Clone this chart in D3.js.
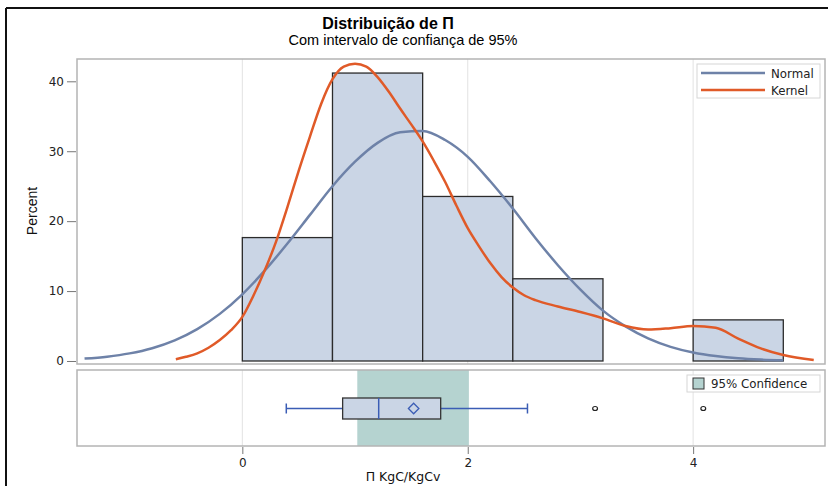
<!DOCTYPE html>
<html>
<head>
<meta charset="utf-8">
<script src="https://cdn.jsdelivr.net/npm/d3@7"></script>
<style>
  body { margin: 0; background: #fff; }
  svg { display: block; }
</style>
</head>
<body>
<div id="chart"></div>
<script>
// histogram bins (percent), bin width 0.8
const binStarts = [0, 0.8, 1.6, 2.4, 3.2, 4.0]
const binPercents = [17.65, 41.18, 23.53, 11.76, 0, 5.88]
const binWidth = 0.8

// fitted normal curve
const normalX = [-1.4, -1.2, -1.0, -0.8, -0.6, -0.4, -0.2, 0, 0.2, 0.4, 0.6, 0.8, 1.0, 1.2, 1.4, 1.6, 1.8, 2.0, 2.2, 2.4, 2.6, 2.8, 3.0, 3.2, 3.4, 3.6, 3.8, 4.0, 4.2, 4.4, 4.6, 4.8]
const normalY = [0.34, 0.62, 1.09, 1.83, 2.95, 4.56, 6.74, 9.54, 12.95, 16.8, 20.9, 25.0, 28.5, 31.2, 32.7, 32.9, 31.6, 29.2, 25.7, 21.8, 17.6, 13.7, 10.2, 7.2, 4.95, 3.23, 2.02, 1.21, 0.7, 0.38, 0.2, 0.1]

// kernel density curve
const kernelX = [-0.59, -0.5, -0.4, -0.3, -0.2, -0.1, 0, 0.1, 0.2, 0.3, 0.4, 0.5, 0.6, 0.7, 0.8, 0.9, 1.0, 1.1, 1.2, 1.3, 1.4, 1.5, 1.6, 1.7, 1.8, 1.9, 2.0, 2.1, 2.2, 2.3, 2.4, 2.5, 2.6, 2.8, 3.0, 3.2, 3.4, 3.6, 3.8, 4.0, 4.2, 4.4, 4.6, 4.8, 5.07]
const kernelY = [0.25, 0.6, 1.1, 1.9, 3.0, 4.4, 6.3, 9.4, 13.0, 17.1, 22.0, 27.2, 32.1, 36.8, 40.3, 42.1, 42.5, 42.1, 40.6, 38.5, 36.1, 33.8, 31.4, 28.6, 25.6, 22.2, 19.0, 16.4, 14.0, 12.0, 10.5, 9.4, 8.7, 7.8, 7.0, 6.1, 5.0, 4.5, 4.7, 5.0, 4.75, 3.2, 1.8, 0.86, 0.15]

// box plot: whisker low, Q1, median, Q3, whisker high
const boxStats = [0.39, 0.89, 1.21, 1.76, 2.53]
const boxMean = 1.52
const outliers = [3.13, 4.09]
const confInterval = [1.02, 2.01]

const xTicks = [0, 2, 4]
const yTicks = [0, 10, 20, 30, 40]
const legendItems = ["Normal", "Kernel"]

const W = 828, H = 486
const main = { left: 77, right: 825, top: 59, bottom: 364 }
const boxPanel = { top: 370, bottom: 446 }

const colors = { bar: "#cad5e5", barStroke: "#2b2b2b", normal: "#6e82a8", kernel: "#e05a28", band: "#b5d3d0", whisker: "#3b5db5" }
const font = "'DejaVu Sans', sans-serif"

const svg = d3.select("#chart").append("svg").attr("width", W).attr("height", H)

// outer frame (top + left black lines)
svg.append("line").attr("x1", 6).attr("x2", W).attr("y1", 8).attr("y2", 8).attr("stroke", "#111").attr("stroke-width", 2)
svg.append("line").attr("x1", 6).attr("x2", 6).attr("y1", 8).attr("y2", H).attr("stroke", "#111").attr("stroke-width", 2)

// titles
svg.append("text").attr("x", 388).attr("y", 29).attr("text-anchor", "middle")
  .attr("font-family", "'Liberation Sans', Arial, sans-serif").attr("font-weight", "bold").attr("font-size", 16)
  .text("Distribuição de Π")
svg.append("text").attr("x", 403).attr("y", 45).attr("text-anchor", "middle")
  .attr("font-family", "'Liberation Sans', Arial, sans-serif").attr("font-size", 14.5)
  .text("Com intervalo de confiança de 95%")

// scales
const x = d3.scaleLinear().domain([-1.467, 5.17]).range([main.left, main.right])
const y = d3.scaleLinear().domain([-0.43, 43.19]).range([main.bottom, main.top])
const yBox = (boxPanel.top + boxPanel.bottom) / 2 + 0.5

// grid lines
;[[main.top, main.bottom], [boxPanel.top, boxPanel.bottom]].forEach(([t, b]) => {
  svg.append("g").selectAll("line").data(xTicks).join("line")
    .attr("x1", (d) => x(d)).attr("x2", (d) => x(d)).attr("y1", t).attr("y2", b)
    .attr("stroke", "#e2e2e2").attr("stroke-width", 1)
})

// histogram
svg.append("g").selectAll("rect")
  .data(binStarts.map((s, i) => ({ s, p: binPercents[i] })).filter((d) => d.p > 0))
  .join("rect")
  .attr("x", (d) => x(d.s))
  .attr("y", (d) => y(d.p))
  .attr("width", (d) => x(d.s + binWidth) - x(d.s))
  .attr("height", (d) => y(0) - y(d.p))
  .attr("fill", colors.bar)
  .attr("stroke", colors.barStroke)
  .attr("stroke-width", 1.3)

// curves
const line = d3.line().x((d) => x(d[0])).y((d) => y(d[1])).curve(d3.curveMonotoneX)
svg.append("path").attr("d", line(normalX.map((v, i) => [v, normalY[i]])))
  .attr("fill", "none").attr("stroke", colors.normal).attr("stroke-width", 2.5)
svg.append("path").attr("d", line(kernelX.map((v, i) => [v, kernelY[i]])))
  .attr("fill", "none").attr("stroke", colors.kernel).attr("stroke-width", 2.5)

// main panel border
svg.append("rect").attr("x", main.left).attr("y", main.top)
  .attr("width", main.right - main.left).attr("height", main.bottom - main.top)
  .attr("fill", "none").attr("stroke", "#b4b4b4").attr("stroke-width", 1.5)

// y axis
const yAxis = svg.append("g").attr("transform", `translate(${main.left - 1},0)`)
  .call(d3.axisLeft(y).tickValues(yTicks).tickSize(9).tickSizeOuter(0))
yAxis.select(".domain").remove()
yAxis.selectAll(".tick line").attr("stroke", "#777")
yAxis.selectAll(".tick text").attr("font-family", font).attr("font-size", 12).attr("fill", "#222").attr("x", -12)

svg.append("text").attr("transform", "translate(37,211) rotate(-90)").attr("text-anchor", "middle")
  .attr("font-family", "'Liberation Sans', Arial, sans-serif").attr("font-size", 14).attr("fill", "#111")
  .text("Percent")

// legend (curves)
const lg = svg.append("g")
lg.append("rect").attr("x", 697).attr("y", 64).attr("width", 123).attr("height", 34)
  .attr("fill", "#fff").attr("stroke", "#d6d6d6").attr("stroke-width", 1)
legendItems.forEach((name, i) => {
  const ly = 73 + i * 17
  lg.append("line").attr("x1", 701).attr("x2", 765).attr("y1", ly).attr("y2", ly)
    .attr("stroke", i === 0 ? colors.normal : colors.kernel).attr("stroke-width", 2.5)
  lg.append("text").attr("x", 771).attr("y", ly + 4.5).attr("font-family", font).attr("font-size", 11.8).attr("fill", "#222").text(name)
})

// box panel
svg.append("rect").attr("x", x(confInterval[0])).attr("y", boxPanel.top)
  .attr("width", x(confInterval[1]) - x(confInterval[0])).attr("height", boxPanel.bottom - boxPanel.top)
  .attr("fill", colors.band)

// whiskers
svg.append("line").attr("x1", x(boxStats[0])).attr("x2", x(boxStats[1])).attr("y1", yBox).attr("y2", yBox).attr("stroke", colors.whisker).attr("stroke-width", 1.3)
svg.append("line").attr("x1", x(boxStats[3])).attr("x2", x(boxStats[4])).attr("y1", yBox).attr("y2", yBox).attr("stroke", colors.whisker).attr("stroke-width", 1.3)
;[boxStats[0], boxStats[4]].forEach((v) => {
  svg.append("line").attr("x1", x(v)).attr("x2", x(v)).attr("y1", yBox - 5).attr("y2", yBox + 5).attr("stroke", colors.whisker).attr("stroke-width", 1.5)
})
svg.append("rect").attr("x", x(boxStats[1])).attr("y", yBox - 10.5)
  .attr("width", x(boxStats[3]) - x(boxStats[1])).attr("height", 21)
  .attr("fill", colors.bar).attr("stroke", "#333").attr("stroke-width", 1.3)
svg.append("line").attr("x1", x(boxStats[2])).attr("x2", x(boxStats[2])).attr("y1", yBox - 10.5).attr("y2", yBox + 10.5)
  .attr("stroke", colors.whisker).attr("stroke-width", 1.5)
svg.append("path").attr("d", d3.symbol(d3.symbolDiamond2, 70)())
  .attr("transform", `translate(${x(boxMean)},${yBox})`)
  .attr("fill", "none").attr("stroke", colors.whisker).attr("stroke-width", 1.3)
svg.append("g").selectAll("ellipse").data(outliers).join("ellipse")
  .attr("cx", (d) => x(d)).attr("cy", yBox).attr("rx", 2.4).attr("ry", 2)
  .attr("fill", "none").attr("stroke", "#222").attr("stroke-width", 1.2)

svg.append("rect").attr("x", main.left).attr("y", boxPanel.top)
  .attr("width", main.right - main.left).attr("height", boxPanel.bottom - boxPanel.top)
  .attr("fill", "none").attr("stroke", "#b4b4b4").attr("stroke-width", 1.5)

// legend (confidence)
svg.append("rect").attr("x", 687).attr("y", 375).attr("width", 133).attr("height", 17)
  .attr("fill", "#fff").attr("stroke", "#d6d6d6").attr("stroke-width", 1)
svg.append("rect").attr("x", 693).attr("y", 378).attr("width", 11).attr("height", 11)
  .attr("fill", colors.band).attr("stroke", "#333").attr("stroke-width", 1)
svg.append("text").attr("x", 711).attr("y", 387.5).attr("font-family", font).attr("font-size", 11.8).attr("fill", "#222").text("95% Confidence")

// x axis
const xAxis = svg.append("g").attr("transform", `translate(0,${boxPanel.bottom + 1})`)
  .call(d3.axisBottom(x).tickValues(xTicks).tickFormat(d3.format("d")).tickSize(7).tickSizeOuter(0))
xAxis.select(".domain").remove()
xAxis.selectAll(".tick line").attr("stroke", "#777")
xAxis.selectAll(".tick text").attr("font-family", font).attr("font-size", 12).attr("fill", "#222").attr("y", 11)

svg.append("text").attr("x", 403).attr("y", 481).attr("text-anchor", "middle")
  .attr("font-family", font).attr("font-size", 12.5).attr("fill", "#111")
  .text("Π KgC/KgCv")
</script>
</body>
</html>
